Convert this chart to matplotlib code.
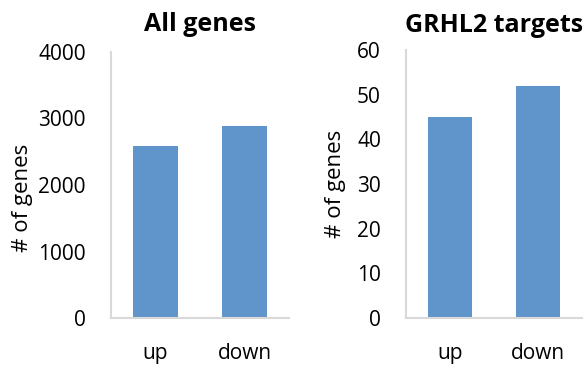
import matplotlib
matplotlib.use("Agg")
import matplotlib.pyplot as plt

categories = ["up", "down"]
all_genes = [2580, 2880]
grhl2_targets = [45, 52]

plt.rcParams['font.family'] = ['Open Sans', 'DejaVu Sans']

fig = plt.figure(figsize=(5.86, 3.68), dpi=100)
bar_color = "#5F95CB"
spine_color = "#D9D9D9"

def style(ax, ylim, ticks):
    ax.set_ylim(*ylim)
    ax.set_yticks(ticks)
    ax.set_xlim(-0.5, 1.5)
    for s in ["top", "right"]:
        ax.spines[s].set_visible(False)
    for s in ["left", "bottom"]:
        ax.spines[s].set_color(spine_color)
        ax.spines[s].set_linewidth(1.5)
    ax.tick_params(axis="y", length=0, pad=18, labelsize=15)
    ax.tick_params(axis="x", length=0, pad=18, labelsize=15)

ax1 = fig.add_axes([111/586, 50/368, 178/586, 266/368])
ax1.bar(categories, all_genes, width=0.5, color=bar_color)
style(ax1, (0, 4000), [0, 1000, 2000, 3000, 4000])
ax1.set_title("All genes", fontsize=18, fontweight="bold", pad=15)
ax1.set_ylabel("# of genes", fontsize=16)
ax1.yaxis.set_label_coords((33 - 111) / 178, 0.45)

ax2 = fig.add_axes([406/586, 50/368, 176/586, 268/368])
ax2.bar(categories, grhl2_targets, width=0.5, color=bar_color)
style(ax2, (0, 60), [0, 10, 20, 30, 40, 50, 60])
ax2.set_title("GRHL2 targets", fontsize=18, fontweight="bold", pad=13)
ax2.set_ylabel("# of genes", fontsize=16)
ax2.yaxis.set_label_coords((346 - 406) / 176, 0.5)

fig.savefig("out.png", dpi=100)
